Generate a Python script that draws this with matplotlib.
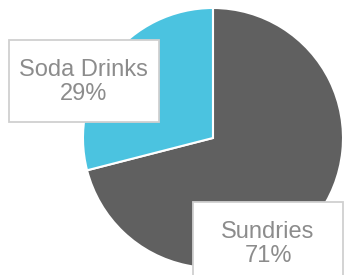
import matplotlib
matplotlib.use("Agg")
import matplotlib.pyplot as plt
from matplotlib.patches import Rectangle

# dados
categorias = ['Sundries', 'Soda Drinks']
valores = [71, 29]
cores = ['#606060', '#4bc3e0']

LARGURA, ALTURA = 345, 275
CAIXA_L, CAIXA_A = 150, 82

fig = plt.figure(figsize=(3.45, 2.75), dpi=100)
ax = fig.add_axes([0, 0, 1, 1])

ax.pie(valores, colors=cores, startangle=90, counterclock=False,
       center=(213, ALTURA - 138), radius=130, explode=[0, 0.03],
       wedgeprops=dict(edgecolor='white', linewidth=1.5), frame=True)
ax.set_xlim(0, LARGURA)
ax.set_ylim(0, ALTURA)
ax.set_aspect('equal')
ax.axis('off')

# rotulos (centro das caixas em pixels)
posicoes = [(268, ALTURA - 243), (83.5, ALTURA - 81)]
total = sum(valores)
for nome, v, pos in zip(categorias, valores, posicoes):
    caixa = Rectangle((pos[0] - CAIXA_L / 2, pos[1] - CAIXA_A / 2), CAIXA_L, CAIXA_A,
                      facecolor='white', edgecolor='#d0d0d0', linewidth=1.3, zorder=3)
    ax.add_patch(caixa)
    ax.text(pos[0], pos[1] - 1, f"{nome}\n{round(100 * v / total)}%", ha='center', va='center',
            fontsize=17, family='Liberation Sans', color='#8c8c8c', linespacing=1.15, zorder=4)

fig.savefig('out.png', dpi=100)
